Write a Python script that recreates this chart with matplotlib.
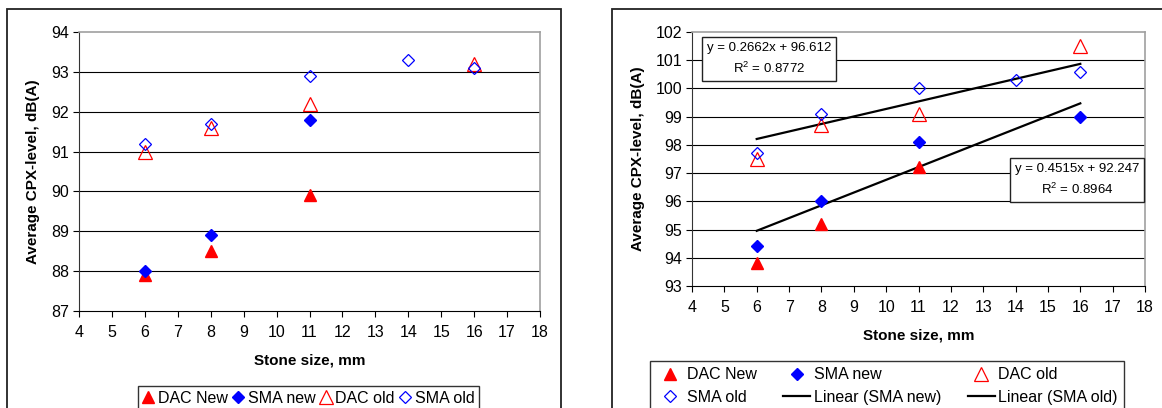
import numpy as np
import matplotlib
matplotlib.use("Agg")
import matplotlib.pyplot as plt
from matplotlib.lines import Line2D
from matplotlib.patches import Rectangle

plt.rcParams['font.family'] = ['Liberation Sans', 'DejaVu Sans']
plt.rcParams['font.size'] = 10

# left chart (A)
left_dac_new_x = [6, 8, 11]
left_dac_new_y = [87.9, 88.5, 89.9]
left_sma_new_x = [6, 8, 11]
left_sma_new_y = [88.0, 88.9, 91.8]
left_dac_old_x = [6, 8, 11, 16]
left_dac_old_y = [91.0, 91.6, 92.2, 93.2]
left_sma_old_x = [6, 8, 11, 14, 16]
left_sma_old_y = [91.2, 91.7, 92.9, 93.3, 93.1]

# right chart (B)
right_dac_new_x = [6, 8, 11]
right_dac_new_y = [93.8, 95.2, 97.2]
right_sma_new_x = [6, 8, 11, 16]
right_sma_new_y = [94.4, 96.0, 98.1, 99.0]
right_dac_old_x = [6, 8, 11, 16]
right_dac_old_y = [97.5, 98.7, 99.1, 101.5]
right_sma_old_x = [6, 8, 11, 14, 16]
right_sma_old_y = [97.7, 99.1, 100.0, 100.3, 100.6]

x_ticks = list(range(4, 19))
left_y_ticks = list(range(87, 95))
right_y_ticks = list(range(93, 103))

W, H = 1162, 408
fig = plt.figure(figsize=(W / 100, H / 100), dpi=100)


def px(x0, y0, x1, y1):
    # pixel box -> figure fraction rect
    return [x0 / W, 1 - y1 / H, (x1 - x0) / W, (y1 - y0) / H]


# outer chart frames
fig.patches.append(Rectangle((7 / W, -0.1), (561 - 7) / W, 1.1 - 9 / H,
                             transform=fig.transFigure, fill=False,
                             edgecolor='#222222', lw=1.3))
fig.patches.append(Rectangle((612 / W, -0.1), 1.0, 1.1 - 9 / H,
                             transform=fig.transFigure, fill=False,
                             edgecolor='#222222', lw=1.3))

red = '#ff0000'
blue = '#0000ff'
fs = 11.5


def style_axes(ax, yticks):
    ax.set_xlim(4, 18)
    ax.set_ylim(yticks[0], yticks[-1])
    ax.set_xticks(x_ticks)
    ax.set_yticks(yticks)
    for y in yticks[1:-1]:
        ax.axhline(y, color='black', lw=0.8, zorder=1)
    ax.spines['top'].set_color('#a0a0a0')
    ax.spines['right'].set_color('#a0a0a0')
    ax.spines['top'].set_linewidth(1.2)
    ax.spines['right'].set_linewidth(1.2)
    ax.spines['left'].set_color('#333333')
    ax.spines['bottom'].set_color('black')
    ax.tick_params(direction='out', length=4, width=0.8, labelsize=fs)
    ax.tick_params(axis='x', pad=6)
    ax.tick_params(axis='y', pad=3)
    ax.set_xlabel('Stone size, mm', fontweight='bold', fontsize=11, labelpad=10)
    ax.set_ylabel('Average CPX-level, dB(A)', fontweight='bold', fontsize=11, labelpad=8)


def draw_points(ax, d):
    ax.plot(d[0], d[1], linestyle='none', marker='^', ms=8.5, color=red, zorder=5)
    ax.plot(d[2], d[3], linestyle='none', marker='D', ms=6, color=blue, zorder=5)
    ax.plot(d[4], d[5], linestyle='none', marker='^', ms=9.5, mfc='none', mec=red, mew=0.9, zorder=5)
    ax.plot(d[6], d[7], linestyle='none', marker='D', ms=6.5, mfc='none', mec=blue, mew=0.9, zorder=5)


h_dac_new = Line2D([], [], linestyle='none', marker='^', ms=8.5, color=red)
h_sma_new = Line2D([], [], linestyle='none', marker='D', ms=6, color=blue)
h_dac_old = Line2D([], [], linestyle='none', marker='^', ms=9.5, mfc='none', mec=red, mew=0.9)
h_sma_old = Line2D([], [], linestyle='none', marker='D', ms=6.5, mfc='none', mec=blue, mew=0.9)
h_lin = Line2D([], [], color='black', lw=1.6)

# ---- left chart
axl = fig.add_axes(px(79, 32, 540, 311))
style_axes(axl, left_y_ticks)
draw_points(axl, [left_dac_new_x, left_dac_new_y, left_sma_new_x, left_sma_new_y,
                  left_dac_old_x, left_dac_old_y, left_sma_old_x, left_sma_old_y])

leg = fig.legend([h_dac_new, h_sma_new, h_dac_old, h_sma_old],
                 ['DAC New', 'SMA new', 'DAC old', 'SMA old'],
                 loc='upper left', bbox_to_anchor=(138 / W, 1 - 386 / H),
                 ncol=4, fontsize=fs, frameon=True, fancybox=False,
                 handlelength=0.7, handletextpad=0.25, columnspacing=0.3,
                 borderpad=0.3, borderaxespad=0)
leg.get_frame().set_edgecolor('black')
leg.get_frame().set_linewidth(1.0)

# ---- right chart
axr = fig.add_axes(px(692, 32, 1145, 286))
style_axes(axr, right_y_ticks)
draw_points(axr, [right_dac_new_x, right_dac_new_y, right_sma_new_x, right_sma_new_y,
                  right_dac_old_x, right_dac_old_y, right_sma_old_x, right_sma_old_y])


def fit(x, y):
    k, b = np.polyfit(x, y, 1)
    pred = np.polyval([k, b], x)
    r2 = 1 - np.sum((np.array(y) - pred) ** 2) / np.sum((np.array(y) - np.mean(y)) ** 2)
    return k, b, r2


for xs, ys, (bx, by) in [(right_sma_old_x, right_sma_old_y, (769, 59)),
                         (right_sma_new_x, right_sma_new_y, (1077, 180))]:
    k, b, r2 = fit(xs, ys)
    xx = np.array([min(xs), max(xs)])
    axr.plot(xx, k * xx + b, color='black', lw=1.6, zorder=4)
    txt = 'y = %.4fx + %.3f\n$\\mathregular{R^2}$ = %.4f' % (k, b, r2)
    axr.text(bx / W, 1 - by / H, txt, transform=fig.transFigure, ha='center', va='center',
             fontsize=9.5, linespacing=1.55, zorder=6,
             bbox=dict(boxstyle='square,pad=0.35', fc='white', ec='#222222', lw=1.0))

top2 = 1 - 361 / H
leg2 = fig.legend([h_dac_new, h_sma_old, h_sma_new, h_lin, h_dac_old, h_lin],
                  ['DAC New', 'SMA old', 'SMA new', 'Linear (SMA new)', 'DAC old', 'Linear (SMA old)'],
                  loc='upper left', bbox_to_anchor=(650 / W, top2 - 0.05, (1124 - 650) / W, 0.05),
                  mode='expand', ncol=3, fontsize=fs, frameon=True, fancybox=False,
                  handlelength=1.7, handletextpad=0.2, columnspacing=1.0,
                  labelspacing=0.45, borderpad=0.4, borderaxespad=0)
leg2.get_frame().set_edgecolor('black')
leg2.get_frame().set_linewidth(1.0)

fig.savefig('out.png', dpi=100)
